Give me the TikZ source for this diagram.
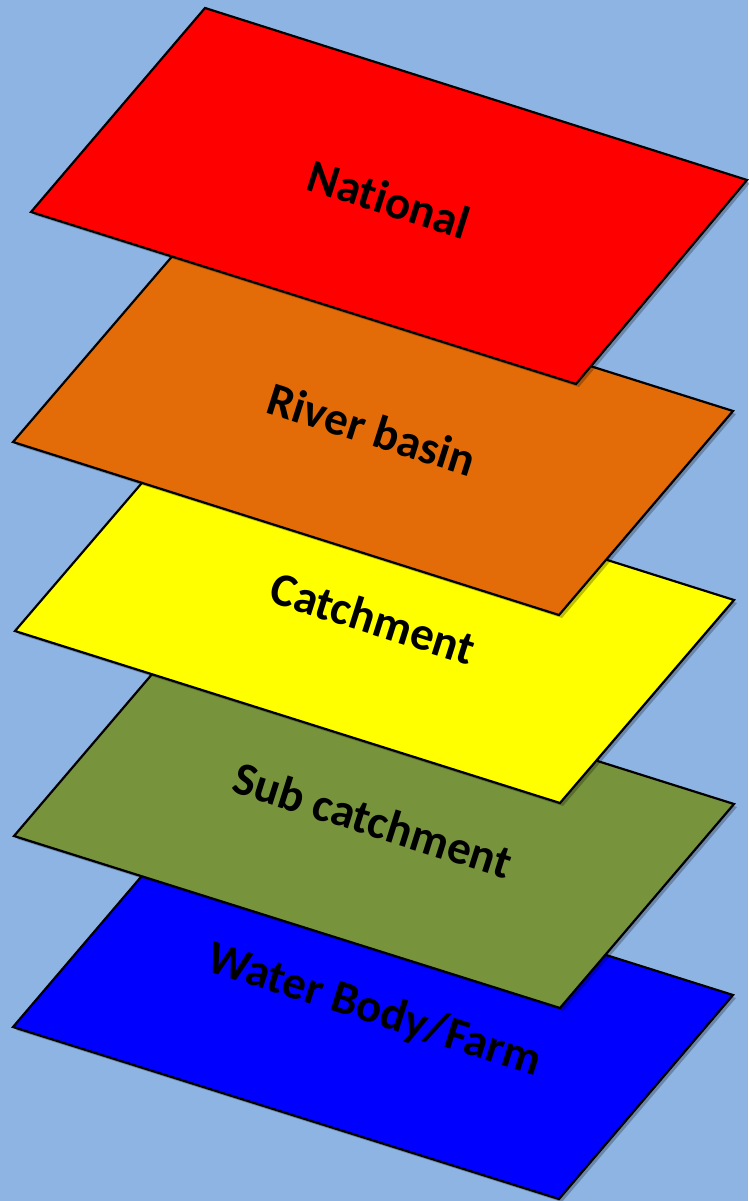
\documentclass[tikz,border=0pt]{standalone}
\usepackage{fontspec}
\setmainfont{Carlito}[Ligatures=CommonOff]
\definecolor{skyback}{HTML}{8EB4E3}
\definecolor{nationalred}{HTML}{FF0000}
\definecolor{basinorange}{HTML}{E36C09}
\definecolor{catchyellow}{HTML}{FFFF00}
\definecolor{subgreen}{HTML}{77933C}
\definecolor{farmblue}{HTML}{0000FF}
\begin{document}
\begin{tikzpicture}[x=1pt,y=-1pt,
  layer/.style={draw=black,line width=2.2pt,line join=miter},
  layershadow/.style={fill=black,opacity=0.25,shift={(3,3)}},
  layerlabel/.style={font=\bfseries\fontsize{47}{47}\selectfont,rotate=-17.6}]
\fill[skyback] (0,0) rectangle (748,1201);
\useasboundingbox (0,0) rectangle (748,1201);
% water body / farm
\fill[layershadow] (13,1027) -- (559,1199) -- (733,995) -- (187,823) -- cycle;
\filldraw[layer,fill=farmblue] (13,1027) -- (559,1199) -- (733,995) -- (187,823) -- cycle;
\node[layerlabel] (farm) at (374,1011) {Water Body/Farm};
% sub catchment
\fill[layershadow] (14,836) -- (560,1008) -- (734,804) -- (188,632) -- cycle;
\filldraw[layer,fill=subgreen] (14,836) -- (560,1008) -- (734,804) -- (188,632) -- cycle;
\node[layerlabel] (subcatch) at (373,820) {Sub catchment};
% catchment
\fill[layershadow] (15,631) -- (560,803) -- (734,600) -- (189,428) -- cycle;
\filldraw[layer,fill=catchyellow] (15,631) -- (560,803) -- (734,600) -- (189,428) -- cycle;
\node[layerlabel] (catch) at (373,618) {Catchment};
% river basin
\fill[layershadow] (13,442) -- (559,615) -- (733,411) -- (187,239) -- cycle;
\filldraw[layer,fill=basinorange] (13,442) -- (559,615) -- (733,411) -- (187,239) -- cycle;
\node[layerlabel] (basin) at (372,429) {River basin};
% national
\fill[layershadow] (31,212) -- (576,384) -- (747,180) -- (205,8) -- cycle;
\filldraw[layer,fill=nationalred] (31,212) -- (576,384) -- (747,180) -- (205,8) -- cycle;
\node[layerlabel] (national) at (389,199) {National};
\end{tikzpicture}
\end{document}
